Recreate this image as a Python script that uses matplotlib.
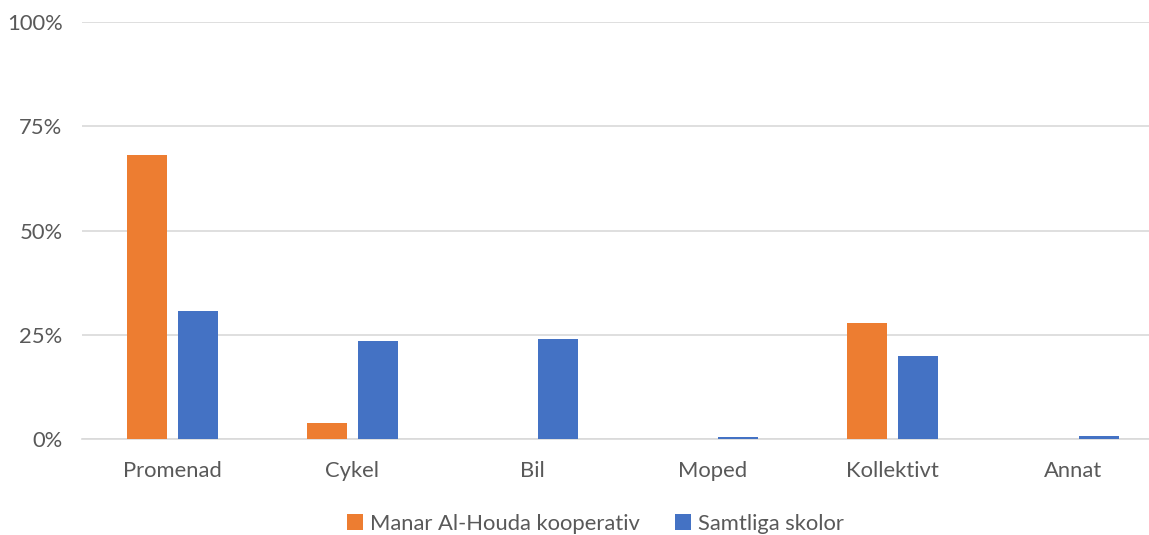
import matplotlib
matplotlib.use("Agg")
import matplotlib.pyplot as plt
import numpy as np
from matplotlib.ticker import FuncFormatter

categories = ["Promenad", "Cykel", "Bil", "Moped", "Kollektivt", "Annat"]
manar = [68.0, 3.8, 0.0, 0.0, 27.9, 0.0]
samtliga = [30.6, 23.4, 24.1, 0.5, 20.0, 0.8]
series_names = ["Manar Al-Houda kooperativ", "Samtliga skolor"]

plt.rcParams['font.family'] = ['Lato', 'DejaVu Sans']
txt = "#595959"
fs = 15.8

fig = plt.figure(figsize=(11.49, 5.35), dpi=100)
ax = fig.add_axes([0.0714, 0.1794, 0.9408, 0.7795])

x = np.arange(len(categories))
w = 0.222
ax.bar(x - 0.142, manar, w, color="#ED7D31", label=series_names[0], zorder=3)
ax.bar(x + 0.142, samtliga, w, color="#4472C4", label=series_names[1], zorder=3)

ax.set_xlim(-0.5, len(categories) - 0.5)
ax.set_ylim(0, 100)
ax.set_yticks([0, 25, 50, 75, 100])
ax.yaxis.set_major_formatter(FuncFormatter(lambda v, p: f"{v:.0f}%"))
ax.set_xticks(x)
ax.set_xticklabels(categories)
ax.grid(axis="y", color="#d9d9d9", linewidth=1.2, zorder=0)
for s in ["top", "right", "left"]:
    ax.spines[s].set_visible(False)
ax.spines["bottom"].set_color("#d9d9d9")
ax.spines["bottom"].set_linewidth(1.2)
ax.tick_params(axis="both", length=0, labelsize=fs, colors=txt)
ax.tick_params(axis="x", pad=16)
ax.tick_params(axis="y", pad=14)

fig.legend(loc="lower center", bbox_to_anchor=(0.518, -0.035), ncol=2, frameon=False,
           fontsize=fs, handlelength=0.75, handleheight=0.75, handletextpad=0.3,
           columnspacing=1.6, labelcolor=txt)

fig.savefig("out.png", dpi=100)
